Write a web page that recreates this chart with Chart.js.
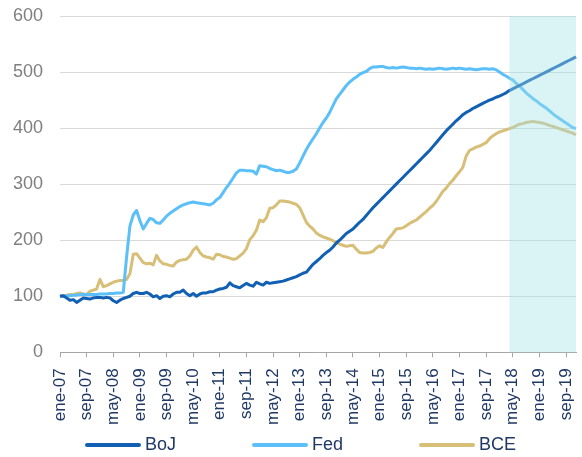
<!DOCTYPE html>
<html>
<head>
<meta charset="utf-8">
<script src="https://cdn.jsdelivr.net/npm/chart.js@4.4.1/dist/chart.umd.min.js"></script>
<style>
	html, body { margin: 0; padding: 0; background: #fff; }
	canvas { display: block; }
</style>
</head>
<body>
<canvas id="canvas" width="582" height="457"></canvas>
<script>
const MESES = ["ene", "feb", "mar", "abr", "may", "jun", "jul", "ago", "sep", "oct", "nov", "dic"];
const ANIOS = ["07", "08", "09", "10", "11", "12", "13", "14", "15", "16", "17", "18", "19"];
const fechas = [];
ANIOS.forEach((a) => MESES.forEach((m) => fechas.push(m + "-" + a)));

const SERIES = ["BoJ", "Fed", "BCE"];
const Y_TICKS = [0, 100, 200, 300, 400, 500, 600];
const INICIO_SOMBRA = "abr-18";

const boj = [
	100, 101, 97, 93, 94, 89, 93, 97, 96, 95,
	97, 98, 98, 97, 98, 97, 92, 89, 93, 96,
	98, 100, 105, 107, 105, 105, 107, 104, 99, 101,
	96, 100, 101, 99, 104, 107, 107, 111, 105, 101,
	105, 100, 104, 106, 106, 108, 108, 111, 113, 114,
	116, 124, 119, 117, 115, 119, 123, 120, 118, 125,
	122, 120, 125, 123, 124, 125, 126, 127, 129, 131,
	133, 135, 138, 141, 143, 150, 157, 162, 167, 173,
	178, 182, 188, 195, 200, 206, 212, 216, 220, 226,
	232, 237, 244, 251, 258, 264, 270, 276, 282, 288,
	294, 300, 306, 312, 318, 324, 330, 336, 342, 348,
	354, 360, 367, 374, 381, 388, 395, 401, 407, 413,
	418, 424, 428, 431, 435, 438, 441, 444, 447, 450,
	452, 455, 457, 460, 463, 467, 470, 473, 476, 479,
	482, 485, 488, 491, 494, 497, 500, 503, 506, 509,
	512, 515, 518, 521, 524, 527,
];

const fed = [
	100, 100, 101, 101, 102, 102, 103, 103, 103, 103,
	103, 103, 104, 104, 104, 105, 105, 106, 106, 107,
	170, 225, 245, 253, 235, 220, 230, 239, 237, 231,
	230, 236, 243, 248, 252, 256, 260, 263, 265, 267,
	268, 267, 266, 265, 264, 263, 266, 272, 276, 285,
	294, 302, 311, 320, 325, 325, 324, 324, 323, 318,
	333, 332, 331, 328, 326, 324, 325, 323, 321, 321,
	323, 327, 338, 350, 362, 372, 381, 390, 400, 410,
	418, 428, 440, 452, 460, 468, 476, 482, 487, 491,
	496, 499, 501, 506, 509, 509, 510, 510, 508, 507,
	508, 507, 508, 509, 508, 507, 507, 506, 507, 506,
	505, 506, 505, 506, 507, 506, 505, 506, 507, 506,
	507, 506, 505, 506, 505, 504, 505, 506, 506, 505,
	506, 504, 500, 496, 493, 489, 486, 480, 475, 469,
	463, 458, 453, 449, 444, 440, 436, 431, 426, 421,
	417, 413, 409, 405, 401, 399,
];

const bce = [
	100, 101, 102, 103, 103, 105, 106, 104, 103, 109,
	111, 113, 130, 117, 119, 122, 125, 127, 128, 128,
	130, 140, 175, 176, 168, 160, 158, 159, 156, 173,
	163, 158, 157, 155, 154, 161, 164, 165, 166, 172,
	182, 188, 178, 172, 170, 169, 166, 175, 174, 171,
	170, 168, 166, 167, 172, 177, 185, 201, 208, 218,
	236, 233, 240, 257, 258, 263, 270, 270, 269, 268,
	266, 264, 258, 245, 232, 225, 220, 213, 209, 206,
	204, 202, 199, 196, 193, 191, 189, 190, 191, 184,
	178, 177, 177, 178, 180, 186, 190, 187, 197, 205,
	212, 220, 221, 222, 226, 230, 233, 236, 241, 246,
	251, 257, 262, 269, 278, 287, 293, 301, 307, 315,
	322, 330, 350, 360, 363, 366, 368, 371, 374, 381,
	386, 390, 393, 395, 397, 399, 401, 404, 407, 408,
	410, 411, 412, 411, 410, 409, 407, 405, 403, 401,
	399, 397, 395, 393, 391, 388,
];

const COLORES = ["#1160b4", "#5bbff9", "#d8bf78"];
const AZUL_TEXTO = "#1f3864";
const FUENTE = "'Liberation Sans', Arial, sans-serif";

// sombreado de la proyeccion, encima de las lineas
const sombra = {
	id: "sombra",
	afterDatasetsDraw(chart) {
		const { ctx, chartArea, scales } = chart;
		const x0 = scales.x.getPixelForValue(fechas.indexOf(INICIO_SOMBRA));
		ctx.save();
		ctx.fillStyle = "rgba(162, 225, 230, 0.4)";
		ctx.fillRect(x0, chartArea.top, chartArea.right - x0, chartArea.bottom - chartArea.top);
		ctx.restore();
	},
};

// leyenda a mano
const leyenda = {
	id: "leyenda",
	afterDraw(chart) {
		const ctx = chart.ctx;
		const y = 445;
		ctx.save();
		ctx.font = "18px " + FUENTE;
		ctx.textBaseline = "middle";
		chart.data.datasets.forEach((ds, i) => {
			const x = 87 + i * 167;
			ctx.strokeStyle = ds.borderColor;
			ctx.lineWidth = 4;
			ctx.lineCap = "round";
			ctx.beginPath();
			ctx.moveTo(x, y);
			ctx.lineTo(x + 52, y);
			ctx.stroke();
			ctx.fillStyle = AZUL_TEXTO;
			ctx.fillText(ds.label, x + 58, y);
		});
		ctx.restore();
	},
};

const grafico = new Chart(document.getElementById("canvas"), {
	type: "line",
	data: {
		labels: fechas,
		datasets: [boj, fed, bce].map((d, i) => ({
			label: SERIES[i],
			data: d,
			borderColor: COLORES[i],
			backgroundColor: COLORES[i],
			borderWidth: 3,
			pointRadius: 0,
			tension: 0,
			borderJoinStyle: "round",
		})),
	},
	options: {
		responsive: false,
		animation: false,
		layout: { padding: { top: 16, left: 13, right: 6, bottom: 21 } },
		plugins: {
			legend: { display: false },
			tooltip: { enabled: false },
		},
		scales: {
			x: {
				afterFit: (s) => {
					s.paddingLeft = 0;
					s.paddingRight = 0;
				},
				grid: {
					drawOnChartArea: false,
					drawTicks: true,
					tickLength: 5,
					tickColor: (c) => (c.index % 8 === 0 ? "#a6a6a6" : "rgba(0,0,0,0)"),
				},
				border: { color: "#a6a6a6" },
				ticks: {
					autoSkip: false,
					maxRotation: 90,
					minRotation: 90,
					padding: 11,
					color: AZUL_TEXTO,
					font: { size: 17, family: FUENTE },
					callback: (v, i) => (i % 8 === 0 ? fechas[i] : ""),
				},
			},
			y: {
				min: Y_TICKS[0],
				max: Y_TICKS[Y_TICKS.length - 1],
				afterFit: (s) => {
					s.width = 47;
					s.paddingTop = 0;
					s.paddingBottom = 0;
				},
				grid: { color: "#d9d9d9", drawTicks: false },
				border: { display: false },
				ticks: {
					stepSize: 100,
					padding: 17,
					color: "#7f7f7f",
					font: { size: 18, family: FUENTE },
				},
			},
		},
	},
	plugins: [sombra, leyenda],
});
</script>
</body>
</html>
